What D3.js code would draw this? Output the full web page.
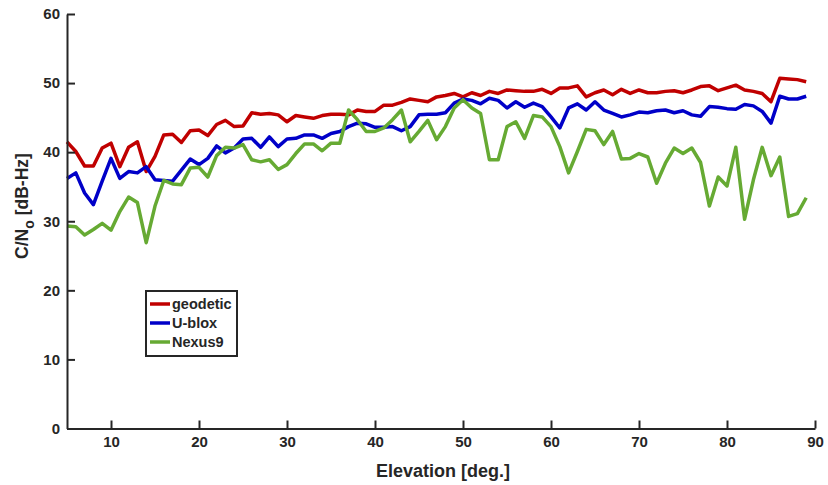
<!DOCTYPE html>
<html>
<head>
<meta charset="utf-8">
<script src="https://cdn.jsdelivr.net/npm/d3@7/dist/d3.min.js"></script>
<style>
  html, body { margin: 0; padding: 0; background: #ffffff; }
  svg { display: block; }
  text { font-family: "Liberation Sans", Arial, Helvetica, sans-serif; font-weight: bold; fill: #262626; }
</style>
</head>
<body>
<svg id="chart" width="828" height="485"></svg>
<script>
// Satellite elevation (deg) at which the mean signal strength was taken
const elevation = [5, 6, 7, 8, 9, 10, 11, 12, 13, 14, 15, 16, 17, 18, 19, 20, 21, 22, 23, 24,
  25, 26, 27, 28, 29, 30, 31, 32, 33, 34, 35, 36, 37, 38, 39, 40, 41, 42, 43, 44,
  45, 46, 47, 48, 49, 50, 51, 52, 53, 54, 55, 56, 57, 58, 59, 60, 61, 62, 63, 64,
  65, 66, 67, 68, 69, 70, 71, 72, 73, 74, 75, 76, 77, 78, 79, 80, 81, 82, 83, 84,
  85, 86, 87, 88, 89];

// C/No in dB-Hz for each receiver
const geodetic = [41.5, 40.1, 38.0, 38.0, 40.6, 41.3, 37.9, 40.7, 41.5, 37.2,
  39.4, 42.5, 42.6, 41.4, 43.1, 43.2, 42.4, 44.0, 44.6, 43.7,
  43.8, 45.7, 45.5, 45.6, 45.4, 44.4, 45.3, 45.1, 44.9, 45.3,
  45.5, 45.5, 45.4, 46.1, 45.9, 45.9, 46.8, 46.8, 47.2, 47.7,
  47.5, 47.3, 48.0, 48.2, 48.5, 48.0, 48.6, 48.2, 48.8, 48.5,
  49.0, 48.9, 48.8, 48.8, 49.1, 48.5, 49.3, 49.3, 49.6, 48.0,
  48.6, 49.0, 48.3, 49.1, 48.5, 49.0, 48.6, 48.6, 48.8, 48.9,
  48.6, 49.0, 49.5, 49.6, 48.9, 49.3, 49.7, 49.0, 48.8, 48.5,
  47.3, 50.7, 50.6, 50.5, 50.2];

const ublox = [36.2, 37.0, 34.1, 32.4, 35.8, 39.1, 36.2, 37.2, 37.0, 37.9,
  36.0, 35.9, 35.8, 37.4, 39.0, 38.2, 39.1, 40.9, 39.9, 40.6,
  41.9, 42.0, 40.7, 42.2, 40.8, 41.9, 42.0, 42.5, 42.5, 42.0,
  42.7, 43.0, 43.7, 44.2, 44.1, 43.6, 43.6, 43.7, 43.1, 43.7,
  45.4, 45.5, 45.5, 45.7, 47.1, 47.7, 47.5, 47.0, 47.8, 47.5,
  46.4, 47.3, 46.5, 47.1, 46.6, 45.1, 43.5, 46.4, 47.0, 46.1,
  47.3, 46.1, 45.6, 45.1, 45.4, 45.8, 45.7, 46.0, 46.1, 45.7,
  46.0, 45.4, 45.2, 46.6, 46.5, 46.3, 46.2, 46.9, 46.7, 45.9,
  44.2, 48.1, 47.7, 47.7, 48.1];

const nexus9 = [29.3, 29.2, 28.0, 28.8, 29.7, 28.7, 31.4, 33.5, 32.7, 26.9,
  32.2, 35.9, 35.4, 35.3, 37.7, 37.8, 36.4, 39.5, 40.7, 40.6,
  41.1, 38.9, 38.6, 38.9, 37.5, 38.2, 39.8, 41.2, 41.2, 40.2,
  41.3, 41.3, 46.1, 44.7, 43.0, 43.0, 43.5, 44.7, 46.1, 41.5,
  43.0, 44.6, 41.8, 43.7, 46.4, 47.6, 46.4, 45.6, 38.9, 38.9,
  43.7, 44.4, 42.0, 45.3, 45.1, 43.7, 40.8, 37.0, 40.1, 43.3,
  43.1, 41.1, 43.0, 39.0, 39.1, 39.8, 39.3, 35.5, 38.4, 40.6,
  39.8, 40.6, 38.5, 32.2, 36.4, 35.1, 40.7, 30.3, 36.0, 40.7,
  36.6, 39.3, 30.7, 31.1, 33.4];

const seriesNames = ["geodetic", "U-blox", "Nexus9"];
const seriesColors = ["#c00000", "#0000c8", "#66aa33"];
const xTicks = [10, 20, 30, 40, 50, 60, 70, 80, 90];
const yTicks = [0, 10, 20, 30, 40, 50, 60];

const svg = d3.select("#chart");
const plot = { left: 67, right: 815, top: 14, bottom: 428.5 };

const x = d3.scaleLinear().domain([5, 90]).range([plot.left, plot.right]);
const y = d3.scaleLinear().domain([0, 60]).range([plot.bottom, plot.top]);

const axisColor = "#262626";

// Series lines
const allSeries = [geodetic, ublox, nexus9];
const line = d3.line()
  .x((d, i) => x(elevation[i]))
  .y(d => y(d));

svg.append("g")
  .selectAll("path")
  .data(allSeries)
  .join("path")
  .attr("d", d => line(d))
  .attr("fill", "none")
  .attr("stroke", (d, i) => seriesColors[i])
  .attr("stroke-width", 3.5)
  .attr("stroke-linejoin", "round");

// Axes with inward ticks
const yAxis = svg.append("g")
  .attr("transform", `translate(${plot.left},0)`)
  .call(d3.axisLeft(y).tickValues(yTicks).tickFormat(d3.format("d"))
    .tickSizeInner(-8).tickSizeOuter(0).tickPadding(7));

const xAxis = svg.append("g")
  .attr("transform", `translate(0,${plot.bottom})`)
  .call(d3.axisBottom(x).tickValues(xTicks).tickFormat(d3.format("d"))
    .tickSizeInner(-8).tickSizeOuter(0).tickPadding(8));

[xAxis, yAxis].forEach(g => {
  g.select(".domain").attr("stroke", axisColor).attr("stroke-width", 2);
  g.selectAll(".tick line").attr("stroke", axisColor).attr("stroke-width", 2);
  g.selectAll(".tick text")
    .attr("fill", axisColor)
    .style("font-size", "15px")
    .style("font-weight", "bold")
    .style("font-family", '"Liberation Sans", Arial, sans-serif');
});

// Axis titles
svg.append("text")
  .attr("x", 443)
  .attr("y", 477)
  .attr("text-anchor", "middle")
  .style("font-size", "18px")
  .text("Elevation [deg.]");

const yTitle = svg.append("text")
  .attr("transform", "translate(28,206) rotate(-90)")
  .attr("text-anchor", "middle")
  .style("font-size", "17.5px");
yTitle.append("tspan").text("C/N");
yTitle.append("tspan").attr("dy", 6).style("font-size", "14px").text("o");
yTitle.append("tspan").attr("dy", -6).text(" [dB-Hz]");

// Legend
const legend = svg.append("g").attr("transform", "translate(146,291)");
legend.append("rect")
  .attr("width", 91)
  .attr("height", 65)
  .attr("fill", "#ffffff")
  .attr("stroke", axisColor)
  .attr("stroke-width", 2);

const rows = legend.selectAll("g.row")
  .data(seriesNames)
  .join("g")
  .attr("class", "row")
  .attr("transform", (d, i) => `translate(0,${13 + i * 19})`);

rows.append("line")
  .attr("x1", 4).attr("x2", 24)
  .attr("y1", 0).attr("y2", 0)
  .attr("stroke", (d, i) => seriesColors[i])
  .attr("stroke-width", 3.5);

rows.append("text")
  .attr("x", 26)
  .attr("y", 5)
  .style("font-size", "14.5px")
  .text(d => d);
</script>
</body>
</html>
